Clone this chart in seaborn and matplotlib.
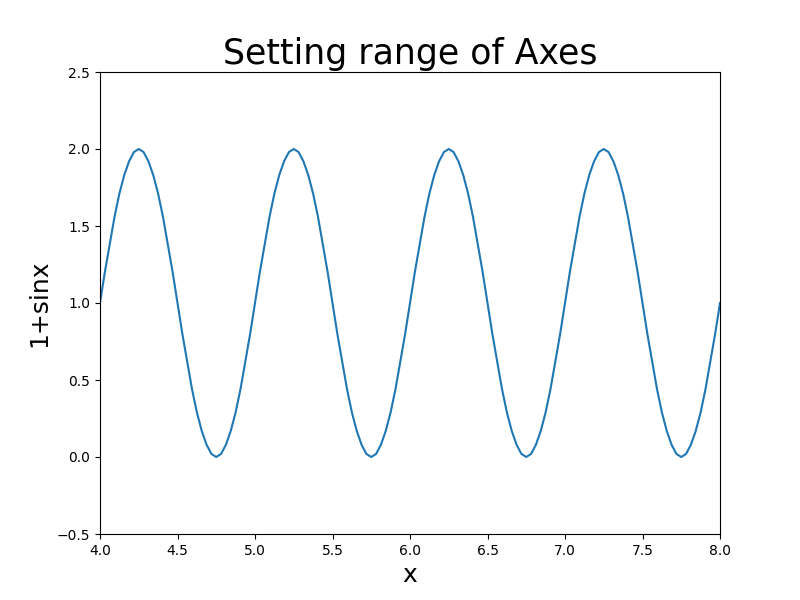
import matplotlib
matplotlib.use("Agg")
import matplotlib.pyplot as plt
import seaborn as sns
import numpy as np

# one period of the curve, every 1/32 of x
cycle = [1.00, 1.20, 1.38, 1.56, 1.71, 1.83, 1.92, 1.98,
         2.00, 1.98, 1.92, 1.83, 1.71, 1.56, 1.38, 1.20,
         1.00, 0.80, 0.62, 0.44, 0.29, 0.17, 0.08, 0.02,
         0.00, 0.02, 0.08, 0.17, 0.29, 0.44, 0.62, 0.80]
y_vals = cycle * 4 + [1.00]
x_vals = [4 + i / 32 for i in range(len(y_vals))]

fig, ax = plt.subplots(figsize=(8, 6), dpi=100)
sns.lineplot(x=x_vals, y=y_vals, ax=ax, color="#1f77b4", linewidth=1.5)
ax.set_xlim(4, 8)
ax.set_ylim(-0.5, 2.5)
ax.set_title("Setting range of Axes", fontsize=25)
ax.set_xlabel("x", fontsize=18)
ax.set_ylabel("1+sinx", fontsize=18)
fig.savefig("out.png")
